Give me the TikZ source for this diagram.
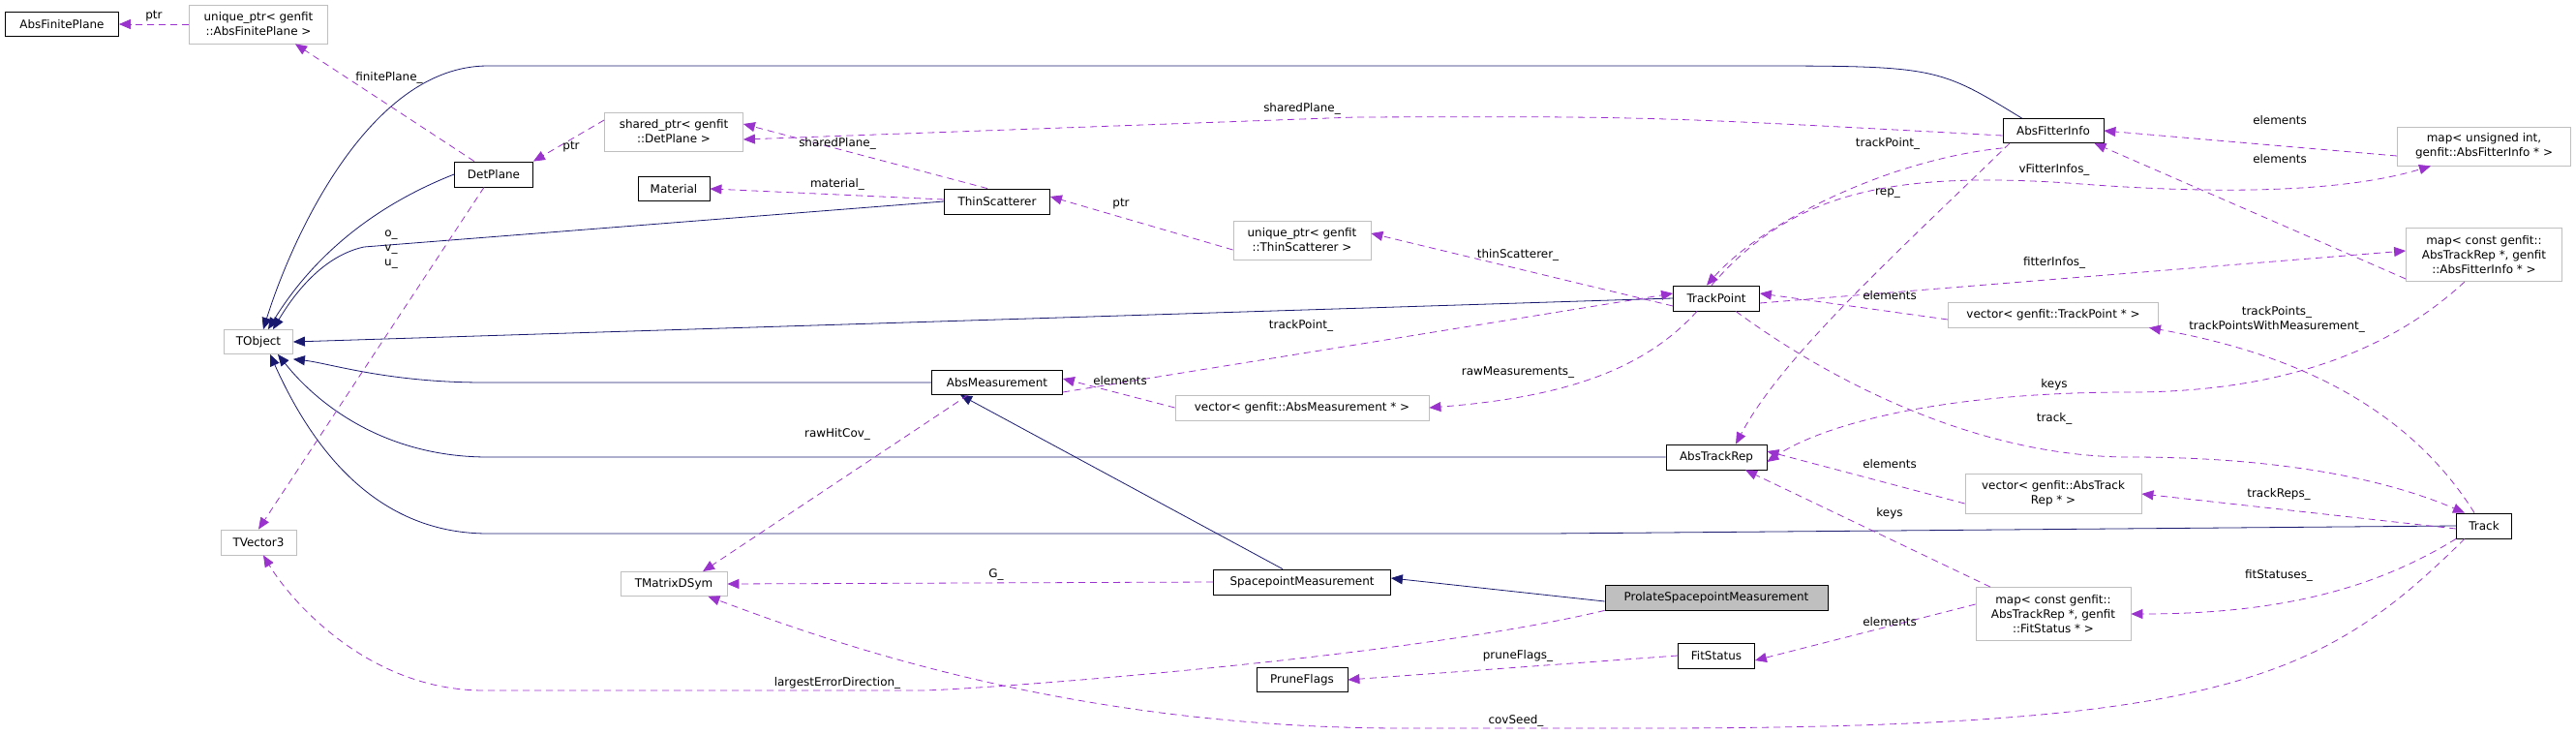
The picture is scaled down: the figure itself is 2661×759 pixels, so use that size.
\documentclass[tikz,border=0pt]{standalone}
\usepackage{fontspec}
\setmainfont{DejaVu Sans}
\usetikzlibrary{arrows.meta}
\definecolor{inh}{HTML}{191970}
\definecolor{usg}{HTML}{9A32CD}
\definecolor{gbord}{HTML}{BFBFBF}
\tikzset{
  cls/.style={draw=black,thick,fill=white,inner sep=0pt,align=center,font=\fontsize{12}{15}\selectfont},
  ext/.style={draw=gbord,thick,fill=white,inner sep=0pt,align=center,font=\fontsize{12}{15}\selectfont},
  isa/.style={draw=inh,thick,-{Triangle[length=12bp,width=10bp]}},
  use/.style={draw=usg,thick,dash pattern=on 7bp off 5bp,-{Triangle[length=12bp,width=10bp]}},
  lbl/.style={font=\fontsize{12}{15}\selectfont,inner sep=1pt,align=center}
}
\begin{document}
\begin{tikzpicture}[x=1bp,y=-1bp]
\useasboundingbox (0,0) rectangle (2661,759);
% nodes
\node[cls,minimum width=117bp,minimum height=25bp] (afp) at (64,25) {AbsFinitePlane};
\node[ext,minimum width=143bp,minimum height=40bp] (uafp) at (267,25) {unique\_ptr< genfit\\::AbsFinitePlane >};
\node[cls,minimum width=81bp,minimum height=26bp] (dp) at (510,180) {DetPlane};
\node[ext,minimum width=143bp,minimum height=40bp] (sdp) at (696,136) {shared\_ptr< genfit\\::DetPlane >};
\node[cls,minimum width=74bp,minimum height=25bp] (mat) at (696,195) {Material};
\node[ext,minimum width=71bp,minimum height=25bp] (tob) at (267,353) {TObject};
\node[cls,minimum width=109bp,minimum height=26bp] (ts) at (1030,208) {ThinScatterer};
\node[ext,minimum width=142bp,minimum height=40bp] (uts) at (1345,248) {unique\_ptr< genfit\\::ThinScatterer >};
\node[cls,minimum width=89bp,minimum height=26bp] (tp) at (1773,308) {TrackPoint};
\node[cls,minimum width=135bp,minimum height=25bp] (am) at (1030,395) {AbsMeasurement};
\node[ext,minimum width=262bp,minimum height=26bp] (vam) at (1345,421) {vector< genfit::AbsMeasurement * >};
\node[cls,minimum width=104bp,minimum height=26bp] (atr) at (1773,472) {AbsTrackRep};
\node[cls,minimum width=104bp,minimum height=25bp] (afi) at (2121,135) {AbsFitterInfo};
\node[ext,minimum width=179bp,minimum height=40bp] (mui) at (2566,151) {map< unsigned int,\\genfit::AbsFitterInfo * >};
\node[ext,minimum width=161bp,minimum height=55bp] (mafi) at (2566,263) {map< const genfit::\\AbsTrackRep *, genfit\\::AbsFitterInfo * >};
\node[ext,minimum width=217bp,minimum height=26bp] (vtp) at (2121,325) {vector< genfit::TrackPoint * >};
\node[ext,minimum width=182bp,minimum height=41bp] (vatr) at (2121,510) {vector< genfit::AbsTrack\\Rep * >};
\node[cls,minimum width=57bp,minimum height=26bp] (trk) at (2566,543) {Track};
\node[ext,minimum width=160bp,minimum height=55bp] (mfs) at (2121,634) {map< const genfit::\\AbsTrackRep *, genfit\\::FitStatus * >};
\node[ext,minimum width=78bp,minimum height=26bp] (tv3) at (267,560) {TVector3};
\node[ext,minimum width=110bp,minimum height=25bp] (tmd) at (696,603) {TMatrixDSym};
\node[cls,minimum width=183bp,minimum height=26bp] (spm) at (1345,601) {SpacepointMeasurement};
\node[cls,fill=gbord,minimum width=230bp,minimum height=26bp] (pspm) at (1773,617) {ProlateSpacepointMeasurement};
\node[cls,minimum width=79bp,minimum height=26bp] (fs) at (1773,677) {FitStatus};
\node[cls,minimum width=94bp,minimum height=25bp] (pf) at (1345,702) {PruneFlags};
% inheritance
\draw[isa] (afi.north west) ++(20,0) .. controls (2000,68) .. (1800,68) -- (504,68) .. controls (380,68) and (300,250) .. ([xshift=5bp]tob.north);
\draw[isa] (dp.west) .. controls (380,215) and (320,270) .. ([xshift=10bp]tob.north);
\draw[isa] (ts.west) -- (376,255) .. controls (330,265) and (300,310) .. ([xshift=15bp]tob.north);
\draw[isa] (tp.west) -- (tob.east);
\draw[isa] (am.west) -- (500,395) .. controls (400,395) and (340,375) .. ([yshift=-5bp]tob.south east);
\draw[isa] (atr.west) -- (504,472) .. controls (400,472) and (330,420) .. ([xshift=20bp]tob.south);
\draw[isa] (trk.west) -- (1600,551) -- (504,551) .. controls (400,551) and (330,480) .. ([xshift=12bp]tob.south);
\draw[isa] ([xshift=-20bp]spm.north) -- ([xshift=30bp]am.south west);
\draw[isa] ([yshift=-4bp]pspm.west) -- ([yshift=4bp]spm.east);
% usage
\draw[use] (uafp) -- (afp);
\node[lbl] at (159,17) {ptr};
\draw[use] ([xshift=-20bp]dp.north) -- ([xshift=38bp]uafp.south);
\node[lbl] at (402,80) {finitePlane\_};
\draw[use] ([yshift=12bp]sdp.west) -- (dp.north east);
\node[lbl] at (590,152) {ptr};
\draw[use] ([xshift=-10bp]dp.south) -- (tv3.north);
\node[lbl] at (404,258) {o\_\\v\_\\u\_};
\draw[use] ([yshift=-5bp]afi.west) .. controls (1700,120) .. (1400,121) -- ([yshift=-8bp]sdp.east);
\node[lbl] at (1345,112) {sharedPlane\_};
\draw[use] ([xshift=-10bp]ts.north) -- ([yshift=8bp]sdp.east);
\node[lbl] at (865,148) {sharedPlane\_};
\draw[use] ([yshift=2bp]ts.west) .. controls (860,200) .. (mat.east);
\node[lbl] at (865,190) {material\_};
\draw[use] ([yshift=-10bp]uts.west) -- ([yshift=5bp]ts.east);
\node[lbl] at (1158,211) {ptr};
\draw[use] ([yshift=-8bp]tp.west) -- ([yshift=7bp]uts.east);
\node[lbl] at (1568,263) {thinScatterer\_};
\draw[use] ([yshift=-10bp]am.east) -- ([yshift=5bp]tp.west);
\node[lbl] at (1344,336) {trackPoint\_};
\draw[use] (vam.west) -- ([yshift=4bp]am.east);
\node[lbl] at (1157,393) {elements};
\draw[use] ([xshift=-20bp]tp.south) .. controls (1700,380) and (1620,410) .. (vam.east);
\node[lbl] at (1568,385) {rawMeasurements\_};
\draw[use] ([yshift=-5bp]afi.south west) .. controls (1950,165) and (1820,230) .. ([xshift=-10bp]tp.north);
\node[lbl] at (1950,148) {trackPoint\_};
\draw[use] ([xshift=-45bp]afi.south) .. controls (1950,270) and (1840,370) .. ([xshift=20bp]atr.north);
\node[lbl] at (1950,200) {rep\_};
\draw[use] ([xshift=-5bp]tp.north) .. controls (1850,200) and (1950,175) .. (2150,190) .. controls (2350,205) and (2450,190) .. ([xshift=-55bp]mui.south);
\node[lbl] at (2122,175) {vFitterInfos\_};
\draw[use] ([yshift=-10bp]mui.west) -- (afi.east);
\node[lbl] at (2355,124) {elements};
\draw[use] ([yshift=-25bp]mafi.west) -- ([xshift=-10bp]afi.south east);
\node[lbl] at (2355,164) {elements};
\draw[use] ([yshift=-5bp]tp.east) -- ([yshift=4bp]mafi.west);
\node[lbl] at (2122,271) {fitterInfos\_};
\draw[use] ([yshift=-5bp]vtp.west) -- ([yshift=5bp]tp.east);
\node[lbl] at (1952,305) {elements};
\draw[use] ([xshift=-10bp]trk.north) .. controls (2500,440) and (2400,370) .. ([xshift=-10bp,yshift=0bp]vtp.south east);
\node[lbl] at (2352,330) {trackPoints\_\\trackPointsWithMeasurement\_};
\draw[use] ([xshift=-20bp]mafi.south) .. controls (2450,380) and (2320,405) .. (2200,405) .. controls (2000,405) and (1880,440) .. ([yshift=-5bp]atr.east);
\node[lbl] at (2122,397) {keys};
\draw[use] ([xshift=20bp]tp.south) .. controls (1900,400) and (2050,472) .. (2200,472) .. controls (2400,472) and (2500,510) .. ([xshift=-20bp]trk.north);
\node[lbl] at (2122,432) {track\_};
\draw[use] ([yshift=-10bp]vatr.west) -- ([yshift=6bp]atr.east);
\node[lbl] at (1952,479) {elements};
\draw[use] ([yshift=-3bp]trk.west) -- (vatr.east);
\node[lbl] at (2354,510) {trackReps\_};
\draw[use] ([xshift=-65bp]mfs.north) -- ([xshift=30bp]atr.south);
\node[lbl] at (1952,530) {keys};
\draw[use] (trk.south west) .. controls (2450,610) and (2350,634) .. (mfs.east);
\node[lbl] at (2354,594) {fitStatuses\_};
\draw[use] ([yshift=10bp]mfs.west) -- ([yshift=-5bp]fs.east);
\node[lbl] at (1952,642) {elements};
\draw[use] (fs.west) -- (pf.east);
\node[lbl] at (1568,677) {pruneFlags\_};
\draw[use] ([xshift=-30bp]am.south) -- ([xshift=30bp]tmd.north);
\node[lbl] at (865,448) {rawHitCov\_};
\draw[use] (spm.west) -- (tmd.east);
\node[lbl] at (1029,593) {G\_};
\draw[use] ([xshift=-20bp]trk.south) .. controls (2400,700) and (2300,752) .. (1700,752) -- (1450,752) .. controls (1100,752) and (850,660) .. ([xshift=-20bp]tmd.south east);
\node[lbl] at (1566,744) {covSeed\_};
\draw[use] (pspm.south west) .. controls (1450,680) and (1000,713) .. (950,713) -- (500,713) .. controls (380,713) and (300,620) .. ([xshift=5bp]tv3.south);
\node[lbl] at (865,705) {largestErrorDirection\_};
\end{tikzpicture}
\end{document}
